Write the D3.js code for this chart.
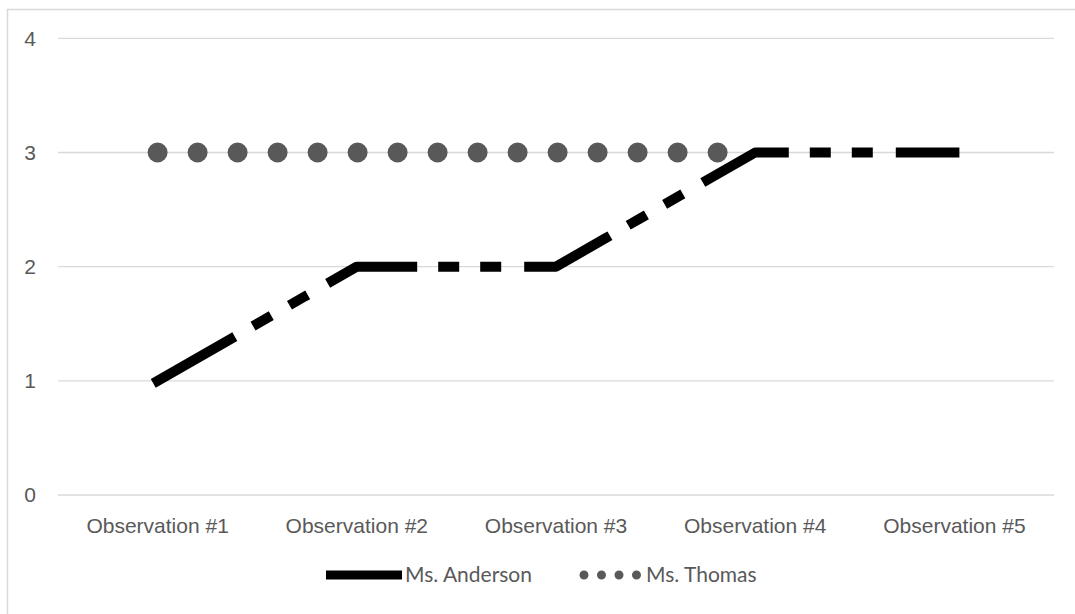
<!DOCTYPE html>
<html>
<head>
<meta charset="utf-8">
<script src="https://cdn.jsdelivr.net/npm/d3@7"></script>
<style>
  html, body { margin: 0; padding: 0; background: #fff; }
  svg { display: block; font-family: Lato, "Open Sans", sans-serif; }
</style>
</head>
<body>
<svg id="chart" width="1075" height="614"></svg>
<script>
// Categories and series
const categories = ["Observation #1", "Observation #2", "Observation #3", "Observation #4", "Observation #5"];
const anderson = [1, 2, 2, 3, 3];
const thomas = [3, 3, 3, 3, null];
const yTicks = [0, 1, 2, 3, 4];
const seriesNames = ["Ms. Anderson", "Ms. Thomas"];

const svg = d3.select("#chart");
const textColor = "#595959";
const gridColor = "#d9d9d9";
const fontSize = "21px";

// Outer chart frame
svg.append("rect")
  .attr("x", 7.5).attr("y", 9.5)
  .attr("width", 1080).attr("height", 620)
  .attr("fill", "#fff")
  .attr("stroke", gridColor).attr("stroke-width", 1.5);

const plot = { left: 58, right: 1054, top: 38.3, bottom: 495 };

const x = d3.scaleBand().domain(categories).range([plot.left, plot.right]).padding(0);
const y = d3.scaleLinear().domain([0, 4]).range([plot.bottom, plot.top]);
const cx = c => x(c) + x.bandwidth() / 2;

// Horizontal gridlines
svg.append("g")
  .selectAll("line")
  .data(yTicks)
  .join("line")
  .attr("x1", plot.left).attr("x2", plot.right)
  .attr("y1", d => y(d)).attr("y2", d => y(d))
  .attr("stroke", gridColor).attr("stroke-width", 1.3);

// Y axis labels
const yAxis = svg.append("g")
  .attr("transform", `translate(${plot.left},0)`)
  .call(d3.axisLeft(y).tickValues(yTicks).tickFormat(d3.format("d")).tickSize(0).tickPadding(22));
yAxis.select(".domain").remove();
yAxis.selectAll("text")
  .attr("fill", textColor)
  .style("font-size", fontSize);

// X axis labels
const xAxis = svg.append("g")
  .attr("transform", `translate(0,${plot.bottom})`)
  .call(d3.axisBottom(x).tickSize(0).tickPadding(23));
xAxis.select(".domain").remove();
xAxis.selectAll("text")
  .attr("fill", textColor)
  .style("font-size", fontSize);

// Series lines
const line = d3.line()
  .defined(d => d.v !== null)
  .x(d => cx(d.c))
  .y(d => y(d.v));

svg.append("path")
  .datum(categories.map((c, i) => ({ c, v: thomas[i] })))
  .attr("d", line)
  .attr("fill", "none")
  .attr("stroke", textColor)
  .attr("stroke-width", 20)
  .attr("stroke-linecap", "round")
  .attr("stroke-dasharray", "0 40");

svg.append("path")
  .datum(categories.map((c, i) => ({ c, v: anderson[i] })))
  .attr("d", line)
  .attr("fill", "none")
  .attr("stroke", "#000")
  .attr("stroke-width", 10)
  .attr("stroke-linecap", "square")
  .attr("stroke-linejoin", "round")
  .attr("stroke-dasharray", "84 31 11 31 11 33");

// Legend
const legend = svg.append("g");
const ly = 575;
legend.append("line")
  .attr("x1", 326).attr("x2", 402)
  .attr("y1", ly).attr("y2", ly)
  .attr("stroke", "#000").attr("stroke-width", 9);
legend.append("text")
  .attr("x", 405).attr("y", ly).attr("dy", "0.35em")
  .attr("fill", textColor).style("font-size", fontSize)
  .text(seriesNames[0]);
legend.append("line")
  .attr("x1", 584).attr("x2", 640)
  .attr("y1", ly).attr("y2", ly)
  .attr("stroke", textColor).attr("stroke-width", 9)
  .attr("stroke-linecap", "round")
  .attr("stroke-dasharray", "0 17.5");
legend.append("text")
  .attr("x", 646).attr("y", ly).attr("dy", "0.35em")
  .attr("fill", textColor).style("font-size", fontSize)
  .text(seriesNames[1]);
</script>
</body>
</html>
